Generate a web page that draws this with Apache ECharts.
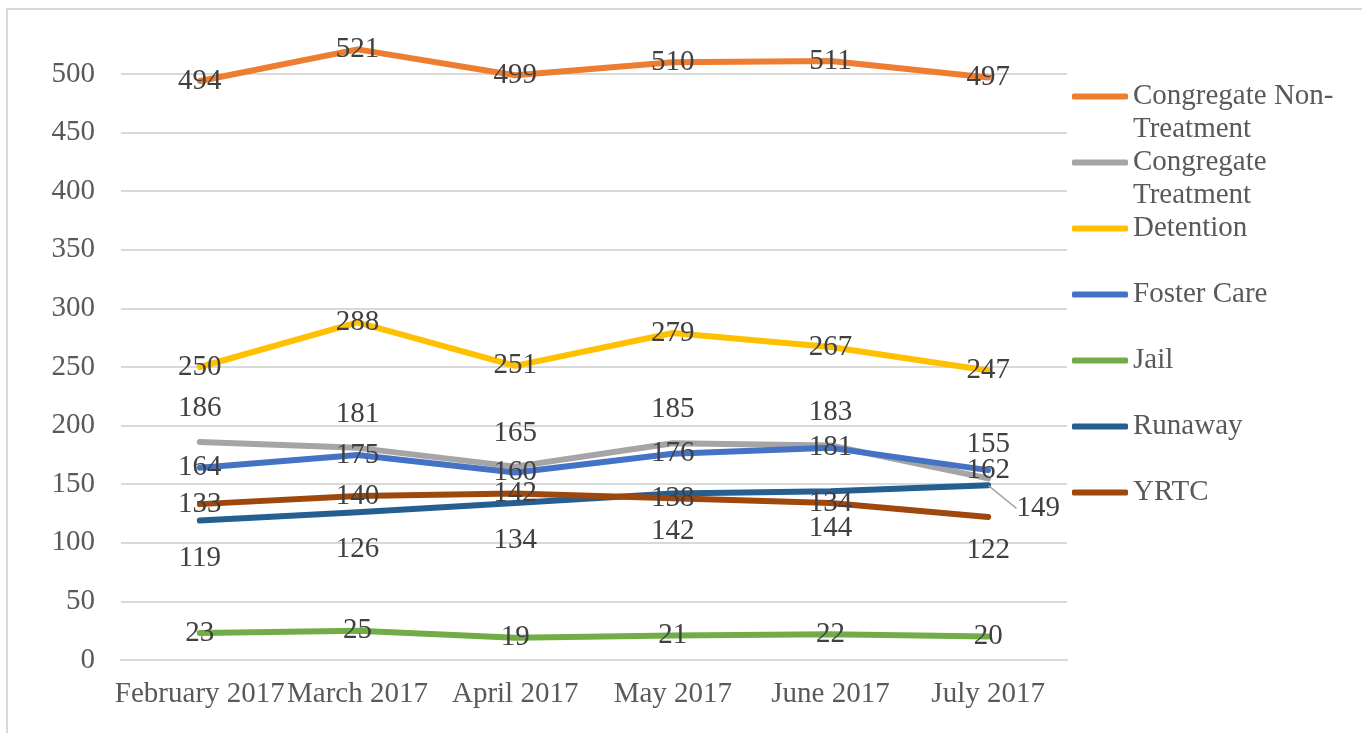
<!DOCTYPE html>
<html>
<head>
<meta charset="utf-8">
<script src="https://cdn.jsdelivr.net/npm/echarts@6/dist/echarts.min.js"></script>
<style>
  body { margin: 0; background: #fff; }
  #main { width: 1362px; height: 733px; position: relative; }
  #frame { position: absolute; left: 6px; top: 8px; right: 0; bottom: 0;
           border-top: 2px solid #D9D9D9; border-left: 2px solid #D9D9D9; pointer-events: none; }
</style>
</head>
<body>
<div id="main"></div>
<div id="frame"></div>
<script>
// 月份
var months = ['February 2017', 'March 2017', 'April 2017', 'May 2017', 'June 2017', 'July 2017']

// 各类安置人数
var congregateNonTreatment = [494, 521, 499, 510, 511, 497]
var congregateTreatment = [186, 181, 165, 185, 183, 155]
var detention = [250, 288, 251, 279, 267, 247]
var fosterCare = [164, 175, 160, 176, 181, 162]
var jail = [23, 25, 19, 21, 22, 20]
var runaway = [119, 126, 134, 142, 144, 149]
var yrtc = [133, 140, 142, 138, 134, 122]

var font = 'Liberation Serif'
var chart = echarts.init(document.getElementById('main'))

// 折线通用配置
function makeLine(name, values, color, labelPos, dist) {
  return {
    name: name,
    type: 'line',
    data: values,
    symbol: 'circle',
    symbolSize: 1,
    clip: false,
    itemStyle: { color: color },
    lineStyle: { color: color, width: 6, cap: 'round', join: 'round' },
    label: {
      show: true,
      position: labelPos,
      distance: dist || 0,
      fontFamily: font,
      fontSize: 29,
      lineHeight: 30,
      color: '#404040'
    },
    emphasis: { disabled: true }
  }
}

var seriesList = [
  makeLine('Congregate Non-Treatment', congregateNonTreatment, '#ED7D31', 'inside'),
  makeLine('Congregate Treatment', congregateTreatment, '#A5A5A5', 'top', 18),
  makeLine('Detention', detention, '#FFC000', 'inside'),
  makeLine('Foster Care', fosterCare, '#4472C4', 'inside'),
  makeLine('Jail', jail, '#70AD47', 'inside'),
  makeLine('Runaway', runaway, '#255E91', 'bottom', 22),
  makeLine('YRTC', yrtc, '#9E480E', 'inside')
]

// YRTC 最后一个点标签放在下方
seriesList[6].data = yrtc.map(function (v, i) {
  if (i === yrtc.length - 1) return { value: v, label: { position: 'bottom', distance: 18 } }
  return v
})

// Runaway 最后一个点标签移到右下，带引导线
seriesList[5].data = runaway.map(function (v, i) {
  if (i === runaway.length - 1) {
    return { value: v, label: { position: 'inside' }, labelLine: { show: true } }
  }
  return v
})
seriesList[5].labelLayout = function (params) {
  if (params.dataIndex === runaway.length - 1) {
    return { dx: 50, dy: 23 }
  }
}
seriesList[5].labelLine = {
  show: false,
  lineStyle: { color: '#A5A5A5', width: 1.5 }
}

// 图例文字：三行，中间一行对齐图标
var legendText = {
  'Congregate Non-Treatment': ' \nCongregate Non-\nTreatment',
  'Congregate Treatment': ' \nCongregate\nTreatment'
}

var option = {
  backgroundColor: '#fff',
  animation: false,
  grid: { left: 121, right: 295, top: 74, bottom: 73 },
  legend: {
    orient: 'vertical',
    left: 1072,
    top: 47,
    padding: 0,
    itemGap: -33,
    itemWidth: 56,
    itemHeight: 6,
    icon: 'roundRect',
    selectedMode: false,
    formatter: function (name) {
      return legendText[name] || (' \n' + name + '\n ')
    },
    textStyle: { fontFamily: font, fontSize: 29, lineHeight: 33, color: '#595959' }
  },
  xAxis: {
    type: 'category',
    data: months,
    boundaryGap: true,
    axisLine: { lineStyle: { color: '#D9D9D9', width: 2 } },
    axisTick: { show: false },
    axisLabel: { fontFamily: font, fontSize: 29, color: '#595959', margin: 20, interval: 0 }
  },
  yAxis: {
    type: 'value',
    min: 0,
    max: 500,
    interval: 50,
    axisLine: { show: false },
    axisTick: { show: false },
    splitLine: { lineStyle: { color: '#D9D9D9', width: 2 } },
    axisLabel: { fontFamily: font, fontSize: 29, color: '#595959', margin: 26 }
  },
  series: seriesList
}

chart.setOption(option)
</script>
</body>
</html>
